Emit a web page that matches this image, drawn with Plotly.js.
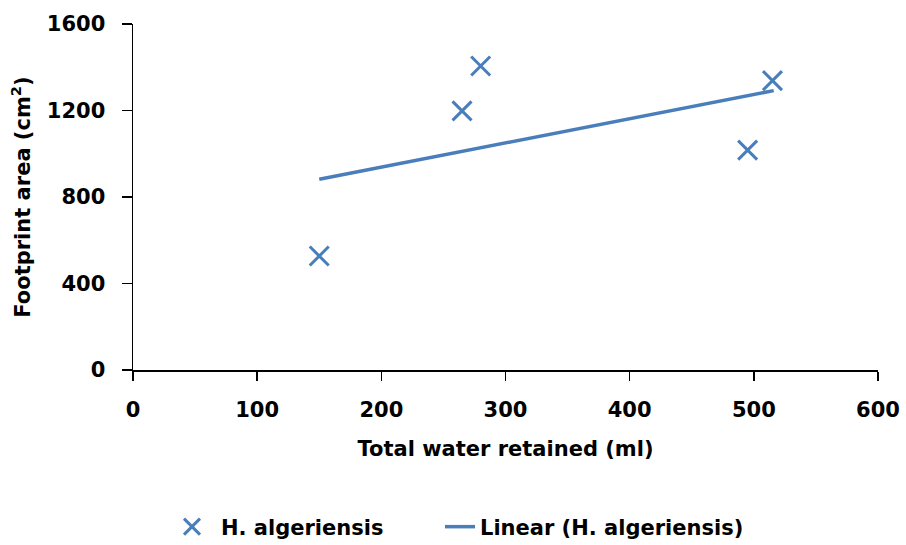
<!DOCTYPE html>
<html>
<head>
<meta charset="utf-8">
<script src="https://cdn.plot.ly/plotly-3.0.1.min.js"></script>
<style>html,body{margin:0;padding:0;background:#fff;}#chart{width:906px;height:545px;}</style>
</head>
<body>
<div id="chart"></div>
<script>
// Data
const waterRetained = [150, 265, 280, 495, 515];
const footprintArea = [527, 1198, 1406, 1017, 1338];
const trendX = [150, 516];
const trendY = [882, 1292];
const seriesName = 'H. algeriensis';
const trendName = 'Linear (H. algeriensis)';
const xTicks = [0, 100, 200, 300, 400, 500, 600];
const yTicks = [0, 400, 800, 1200, 1600];

const blue = '#4A7EBB';
const fam = '"DejaVu Sans", "Open Sans", sans-serif';
const boldF = {family: fam, size: 21, color: '#000', weight: 'bold'};

const traces = [
  {
    x: waterRetained, y: footprintArea, name: seriesName,
    type: 'scatter', mode: 'markers', legend: 'legend',
    marker: {symbol: 'x-thin', size: 19, color: blue, line: {color: blue, width: 3}}
  },
  {
    x: trendX, y: trendY, name: trendName,
    type: 'scatter', mode: 'lines', legend: 'legend2',
    line: {color: blue, width: 3.5}
  }
];

const layout = {
  width: 906, height: 545,
  margin: {l: 133, r: 28, t: 24, b: 175, autoexpand: false},
  paper_bgcolor: '#fff', plot_bgcolor: '#fff',
  font: boldF,
  showlegend: true,
  legend: {orientation: 'h', xref: 'container', yref: 'container',
           x: 163 / 906, xanchor: 'left', y: 0.033, yanchor: 'middle',
           font: boldF, itemwidth: 48},
  legend2: {orientation: 'h', xref: 'container', yref: 'container',
           x: 440 / 906, xanchor: 'left', y: 0.033, yanchor: 'middle',
           font: boldF, itemwidth: 30},
  xaxis: {
    range: [0, 600], tickvals: xTicks, ticktext: xTicks.map(String),
    showgrid: false, zeroline: false, showline: true, linecolor: '#000', linewidth: 1.5,
    ticks: 'outside', ticklen: 9, tickwidth: 1.5, tickcolor: '#000',
    ticklabelstandoff: 11,
    tickfont: boldF,
    title: {text: 'Total water retained (ml)', standoff: 20, font: boldF}
  },
  yaxis: {
    range: [0, 1600], tickvals: yTicks, ticktext: yTicks.map(String),
    showgrid: false, zeroline: false, showline: true, linecolor: '#000', linewidth: 1.5,
    ticks: 'outside', ticklen: 10, tickwidth: 1.5, tickcolor: '#000',
    ticklabelstandoff: 12,
    tickfont: boldF,
    title: {text: 'Footprint area (cm<sup>2</sup>)', standoff: 10, font: boldF}
  }
};

Plotly.newPlot('chart', traces, layout, {displayModeBar: false, staticPlot: true});
</script>
</body>
</html>
